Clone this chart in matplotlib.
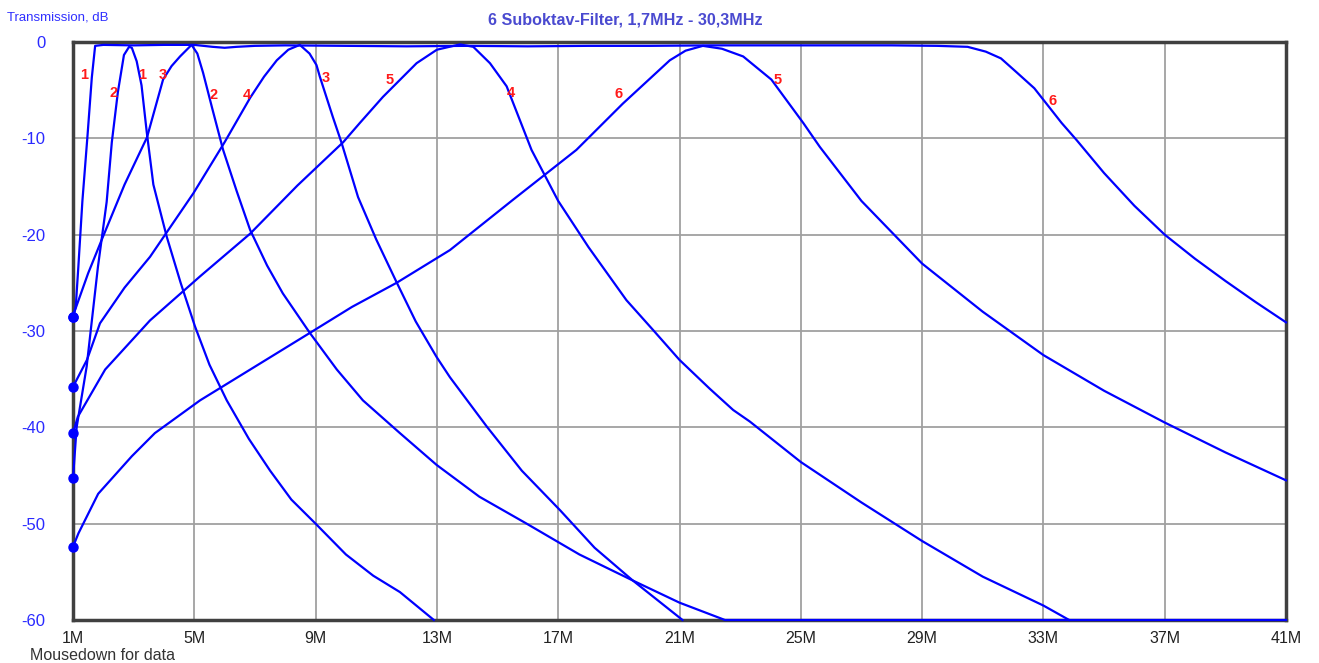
import numpy as np
import matplotlib.pyplot as plt

# ── curve data (MHz, dB) ───────────────────────────────────────
# A: wide curve (steep rise "1", flat top, fall "6")
fA = [1.0, 1.09, 1.175, 1.31, 1.48, 1.62, 1.73, 2.0, 3.0, 4.0, 5.0, 5.6, 6.0, 6.4, 7.0, 8.0,
      10, 12, 14, 16, 18, 20, 22, 24, 26, 28, 29.5, 30.5, 31.1, 31.6, 32.1, 32.7, 33.05,
      33.6, 34.1, 35, 36, 37, 38, 39, 40, 41]
dbA = [-28.5, -27.5, -23.4, -16.5, -9.65, -3.7, -0.4, -0.3, -0.35, -0.3, -0.3, -0.5, -0.6,
       -0.5, -0.4, -0.35, -0.4, -0.45, -0.4, -0.45, -0.4, -0.4, -0.35, -0.35, -0.35, -0.35,
       -0.4, -0.5, -1.0, -1.7, -3.1, -4.8, -6.2, -8.4, -10.2, -13.6, -17.0, -20.0, -22.5,
       -24.8, -27.0, -29.1]

# B: peak ~2.9 MHz (rise "2", fall "1")
fB = [1.0, 1.12, 1.45, 1.82, 2.11, 2.28, 2.48, 2.68, 2.85, 2.94, 3.1, 3.26, 3.43, 3.65,
      4.09, 4.55, 5.02, 5.5, 6.07, 6.8, 7.5, 8.2, 9.0, 10.0, 10.9, 11.78, 12.9]
dbB = [-45.3, -40.0, -33.7, -23.4, -16.6, -10.4, -5.2, -1.35, -0.5, -0.6, -2.0, -4.5,
       -9.3, -14.8, -20.2, -25.0, -29.5, -33.5, -37.2, -41.2, -44.5, -47.5, -50.0, -53.2,
       -55.4, -57.1, -60.0]

# C: peak ~4.9 MHz (rise "3", fall "2"), clipped at -60 to the end
fC = [1.0, 1.07, 1.5, 1.99, 2.7, 3.44, 3.97, 4.25, 4.53, 4.91, 5.1, 5.29, 5.6, 5.95, 6.4,
      6.84, 7.4, 7.92, 8.81, 9.7, 10.56, 11.78, 12.99, 14.4, 15.96, 17.7, 19.46, 21.0,
      22.5, 41.0]
dbC = [-28.5, -27.8, -24.0, -20.2, -14.8, -9.9, -3.9, -2.5, -1.5, -0.3, -1.2, -3.2, -7.0,
       -11.2, -15.5, -19.5, -23.2, -26.1, -30.2, -34.0, -37.2, -40.6, -43.9, -47.2, -50.0,
       -53.2, -55.9, -58.2, -60.0, -60.0]

# D: peak ~8.5 MHz (rise "4", fall "3")
fD = [1.0, 1.46, 1.89, 2.7, 3.54, 4.97, 6.0, 6.84, 7.3, 7.72, 8.1, 8.48, 8.8, 9.03, 9.14,
      9.57, 9.86, 10.4, 11.0, 11.68, 12.3, 12.99, 13.43, 14.64, 15.8, 17.06, 18.2, 19.46,
      21.1]
dbD = [-35.8, -33.0, -29.2, -25.5, -22.3, -15.7, -10.4, -5.8, -3.6, -1.9, -0.8, -0.3,
       -1.2, -2.4, -3.6, -7.8, -10.5, -16.1, -20.5, -25.0, -29.0, -32.7, -34.8, -39.9,
       -44.5, -48.6, -52.5, -55.9, -60.0]

# E: peak ~13.8 MHz (rise "5", fall "4")
fE = [1.0, 1.16, 2.06, 3.54, 5.2, 6.84, 8.4, 9.91, 10.46, 11.22, 12.33, 13.0, 13.76,
      14.2, 14.75, 15.3, 16.12, 17.0, 18.0, 19.25, 20.13, 21.0, 22.0, 22.77, 23.32, 25.0,
      27.0, 29.0, 31.0, 33.0, 33.85]
dbE = [-40.6, -38.9, -34.0, -28.9, -24.3, -19.9, -14.9, -10.4, -8.4, -5.7, -2.2, -0.8,
       -0.25, -0.5, -2.2, -4.6, -11.2, -16.5, -21.3, -26.8, -29.9, -33.0, -36.0, -38.2,
       -39.4, -43.6, -47.8, -51.8, -55.5, -58.5, -60.0]

# F: peak ~22 MHz (rise "6", fall "5")
fF = [1.0, 1.18, 1.83, 2.94, 3.7, 5.19, 7.0, 8.81, 10.2, 11.67, 13.43, 15.5, 17.6, 19.13,
      20.68, 21.2, 21.77, 22.4, 23.1, 24.03, 25.08, 25.63, 27, 29, 31, 33, 35, 37, 39, 41]
dbF = [-52.4, -51.0, -46.9, -43.0, -40.6, -37.2, -33.7, -30.2, -27.5, -25.0, -21.6,
       -16.4, -11.2, -6.4, -1.9, -0.9, -0.4, -0.7, -1.5, -3.9, -8.4, -10.9, -16.5, -23.0,
       -28.0, -32.5, -36.2, -39.5, -42.6, -45.5]

curves = [(fA, dbA), (fB, dbB), (fC, dbC), (fD, dbD), (fE, dbE), (fF, dbF)]

# red curve numbers (text, MHz, dB)
label_txt = ["1", "2", "1", "3", "2", "4", "3", "5", "4", "6", "5", "6"]
label_f = [1.36, 2.35, 3.27, 3.97, 5.62, 6.74, 9.34, 11.45, 15.44, 19.0, 24.24, 33.31]
label_db = [-3.4, -5.3, -3.4, -3.4, -5.5, -5.5, -3.7, -3.9, -5.3, -5.4, -3.9, -6.1]

x_ticks = [1, 5, 9, 13, 17, 21, 25, 29, 33, 37, 41]
x_tick_labels = [f"{t}M" for t in x_ticks]
y_ticks = [0, -10, -20, -30, -40, -50, -60]

plt.rcParams['font.family'] = ['Liberation Sans', 'DejaVu Sans']

fig = plt.figure(figsize=(13.19, 6.63), dpi=100, facecolor="white")
ax = fig.add_axes([73 / 1319, 43 / 663, 1213 / 1319, 578 / 663])

for f, db in curves:
    ax.plot(f, db, color="#0000ff", lw=1.6, solid_joinstyle="round", zorder=3,
            clip_on=False)
    ax.plot([f[0]], [db[0]], "o", color="#0000ff", ms=6.5, zorder=4, clip_on=False)

for t, f, d in zip(label_txt, label_f, label_db):
    ax.text(f, d, t, color="#ff1a1a", fontsize=10.5, fontweight="bold",
            ha="center", va="center", zorder=5)

ax.set_xlim(1, 41)
ax.set_ylim(-60, 0)
ax.set_xticks(x_ticks)
ax.set_xticklabels(x_tick_labels)
ax.set_yticks(y_ticks)
ax.set_yticklabels([str(t) for t in y_ticks])
ax.grid(True, color="#a0a0a0", lw=1.3, zorder=0)
ax.tick_params(length=0, pad=7)
ax.tick_params(axis="y", labelcolor="#2a2aff", labelsize=12, pad=20)
ax.tick_params(axis="x", labelcolor="#222222", labelsize=11.5, pad=8)
for s in ax.spines.values():
    s.set_color("#404040")
    s.set_linewidth(2.5)
    s.set_zorder(2)

fig.text(625 / 1319, 1 - 20 / 663, "6 Suboktav-Filter, 1,7MHz - 30,3MHz",
         color="#4a4ad0", fontsize=11.6, fontweight="bold", ha="center", va="center")
fig.text(7 / 1319, 1 - 17 / 663, "Transmission, dB", color="#3030ff", fontsize=9.5,
         ha="left", va="center")
fig.text(30 / 1319, 1 - 656 / 663, "Mousedown for data", color="#333333", fontsize=11.5,
         ha="left", va="center")

fig.savefig("out.png", dpi=100, facecolor="white")
